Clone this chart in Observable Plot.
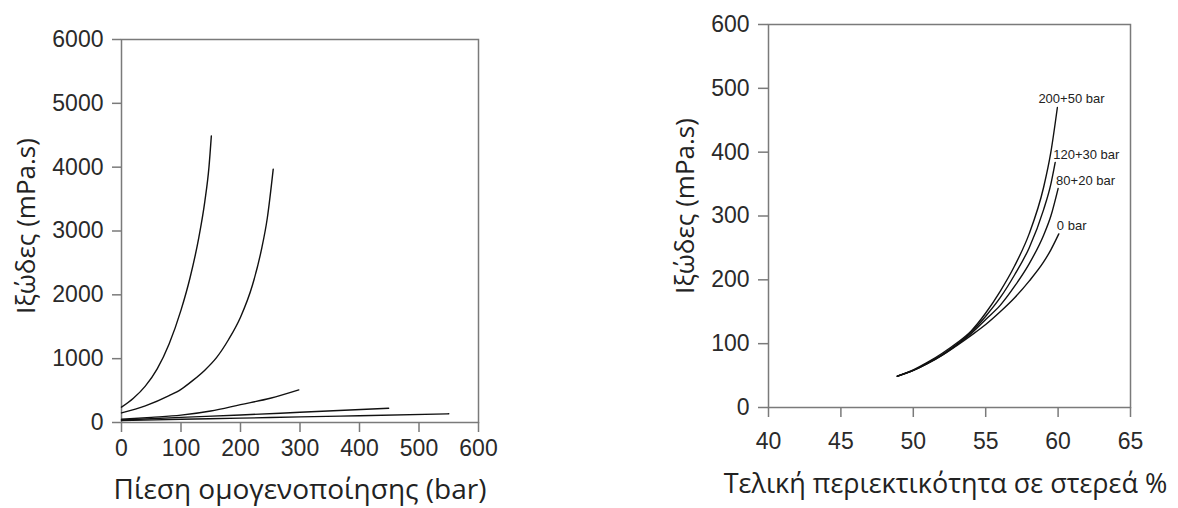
<!DOCTYPE html>
<html>
<head>
<meta charset="utf-8">
<script src="https://cdn.jsdelivr.net/npm/d3@7"></script>
<script src="https://cdn.jsdelivr.net/npm/@observablehq/plot@0.6"></script>
<style>
  html, body { margin: 0; padding: 0; background: #fff; }
  #wrap { position: relative; width: 1178px; height: 508px; overflow: hidden; }
  #left { position: absolute; left: 0; top: 0; }
  #right { position: absolute; left: 620px; top: 0; }
</style>
</head>
<body>
<div id="wrap"><div id="left"></div><div id="right"></div></div>
<script>
// ---------- Left chart: viscosity vs homogenisation pressure ----------
const leftXTicks = [0, 100, 200, 300, 400, 500, 600];
const leftYTicks = [0, 1000, 2000, 3000, 4000, 5000, 6000];
const leftXTitle = "Πίεση ομογενοποίησης (bar)";
const yTitle = "Ιξώδες (mPa.s)";

const curveA_bar  = [0, 20, 40, 60, 80, 100, 115, 130, 140, 147, 151];
const curveA_visc = [240, 380, 570, 840, 1230, 1760, 2260, 2900, 3460, 4000, 4490];
const curveB_bar  = [0, 40, 80, 100, 120, 140, 160, 180, 200, 220, 235, 245, 255];
const curveB_visc = [150, 260, 420, 520, 660, 820, 1020, 1300, 1650, 2150, 2700, 3200, 3970];
const curveC_bar  = [0, 50, 100, 150, 200, 250, 298];
const curveC_visc = [50, 80, 115, 180, 280, 380, 511];
const curveD_bar  = [0, 100, 200, 300, 449];
const curveD_visc = [40, 80, 118, 160, 224];
const curveE_bar  = [0, 100, 200, 300, 400, 550];
const curveE_visc = [30, 50, 68, 88, 106, 136];

// ---------- Right chart: viscosity vs final solids content ----------
const rightXTicks = [40, 45, 50, 55, 60, 65];
const rightYTicks = [0, 100, 200, 300, 400, 500, 600];
const rightXTitle = "Τελική περιεκτικότητα σε στερεά %";

const s200_label = "200+50 bar";
const s200_solids = [48.9, 50, 51, 52, 53, 54, 55, 56, 57, 58, 59, 59.5, 59.95];
const s200_visc   = [49, 59, 71, 85, 101, 120, 148, 182, 222, 272, 345, 400, 470];
const s120_label = "120+30 bar";
const s120_solids = [48.9, 50, 51, 52, 53, 54, 55, 56, 57, 58, 59, 59.5, 59.8];
const s120_visc   = [49, 58, 70, 83, 99, 118, 143, 172, 208, 250, 310, 350, 384];
const s80_label = "80+20 bar";
const s80_solids = [48.9, 50, 51, 52, 53, 54, 55, 56, 57, 58, 59, 59.5, 60.0];
const s80_visc   = [49, 58, 69, 82, 98, 116, 138, 160, 190, 225, 270, 300, 343];
const s0_label = "0 bar";
const s0_solids = [48.9, 50, 51, 52, 53, 54, 55, 56, 57, 58, 59, 59.5, 60.05];
const s0_visc   = [49, 58, 69, 82, 97, 113, 130, 150, 172, 198, 228, 247, 272];

function rows(id, xs, ys, label) {
  return xs.map((x, i) => ({id, x, y: ys[i], label}));
}

const leftData = [
  ...rows("A", curveA_bar, curveA_visc),
  ...rows("B", curveB_bar, curveB_visc),
  ...rows("C", curveC_bar, curveC_visc),
  ...rows("D", curveD_bar, curveD_visc),
  ...rows("E", curveE_bar, curveE_visc)
];

const rightSeries = [
  rows("s200", s200_solids, s200_visc, s200_label),
  rows("s120", s120_solids, s120_visc, s120_label),
  rows("s80", s80_solids, s80_visc, s80_label),
  rows("s0", s0_solids, s0_visc, s0_label)
];
const rightData = rightSeries.flat();
const rightEnds = rightSeries.map(s => s[s.length - 1]);

const tickFont = "'Liberation Sans', Arial, sans-serif";
const titleFont = "'Open Sans', 'Noto Sans', sans-serif";
const axisGray = "#7a7a7a";
const textColor = "#2a2a2a";
const plain = d => String(d);

const left = Plot.plot({
  width: 500, height: 508,
  marginLeft: 121, marginRight: 22, marginTop: 39, marginBottom: 86,
  style: {fontFamily: tickFont, fontSize: "23px", color: textColor, background: "#fff", overflow: "visible"},
  x: {domain: [0, 600]},
  y: {domain: [0, 6000]},
  marks: [
    Plot.frame({stroke: axisGray, strokeWidth: 1.5}),
    Plot.axisX({ticks: leftXTicks, tickFormat: plain, tickSize: 10, tickPadding: 7, stroke: axisGray, strokeWidth: 1.5, label: null, fill: textColor}),
    Plot.axisY({ticks: leftYTicks, tickFormat: plain, tickSize: 9, tickPadding: 9, stroke: axisGray, strokeWidth: 1.5, label: null, fill: textColor}),
    Plot.line(leftData, {x: "x", y: "y", z: "id", stroke: "#111", strokeWidth: 1.4, curve: "monotone-x"}),
    Plot.text([leftXTitle], {frameAnchor: "bottom", dy: 76, fontFamily: titleFont, fontSize: 28, fill: "#222"}),
    Plot.text([yTitle], {frameAnchor: "left", textAnchor: "middle", rotate: -90, dx: -95, dy: -5, fontFamily: titleFont, fontSize: 26, fill: "#222"})
  ]
});

const right = Plot.plot({
  width: 558, height: 508,
  marginLeft: 148, marginRight: 48, marginTop: 24, marginBottom: 101,
  style: {fontFamily: tickFont, fontSize: "23px", color: textColor, background: "#fff", overflow: "visible"},
  x: {domain: [40, 65]},
  y: {domain: [0, 600]},
  marks: [
    Plot.frame({stroke: axisGray, strokeWidth: 1.5}),
    Plot.axisX({ticks: rightXTicks, tickFormat: plain, tickSize: 10, tickPadding: 15, stroke: axisGray, strokeWidth: 1.5, label: null, fill: textColor}),
    Plot.axisY({ticks: rightYTicks, tickFormat: plain, tickSize: 10, tickPadding: 9, stroke: axisGray, strokeWidth: 1.5, label: null, fill: textColor}),
    Plot.line(rightData, {x: "x", y: "y", z: "id", stroke: "#111", strokeWidth: 1.4, curve: "monotone-x"}),
    Plot.text(rightEnds.slice(0, 1), {x: "x", y: "y", text: "label", textAnchor: "start", dx: -19, dy: -9, fontSize: 13, fill: "#222"}),
    Plot.text(rightEnds.slice(1), {x: "x", y: "y", text: "label", textAnchor: "start", dx: -2, dy: -8, fontSize: 13, fill: "#222"}),
    Plot.text([rightXTitle], {frameAnchor: "bottom", dy: 85, dx: -4, fontFamily: titleFont, fontSize: 27, fill: "#222"}),
    Plot.text([yTitle], {frameAnchor: "left", textAnchor: "middle", rotate: -90, dx: -83, dy: -10, fontFamily: titleFont, fontSize: 26, fill: "#222"})
  ]
});

document.getElementById("left").appendChild(left);
document.getElementById("right").appendChild(right);
</script>
</body>
</html>
